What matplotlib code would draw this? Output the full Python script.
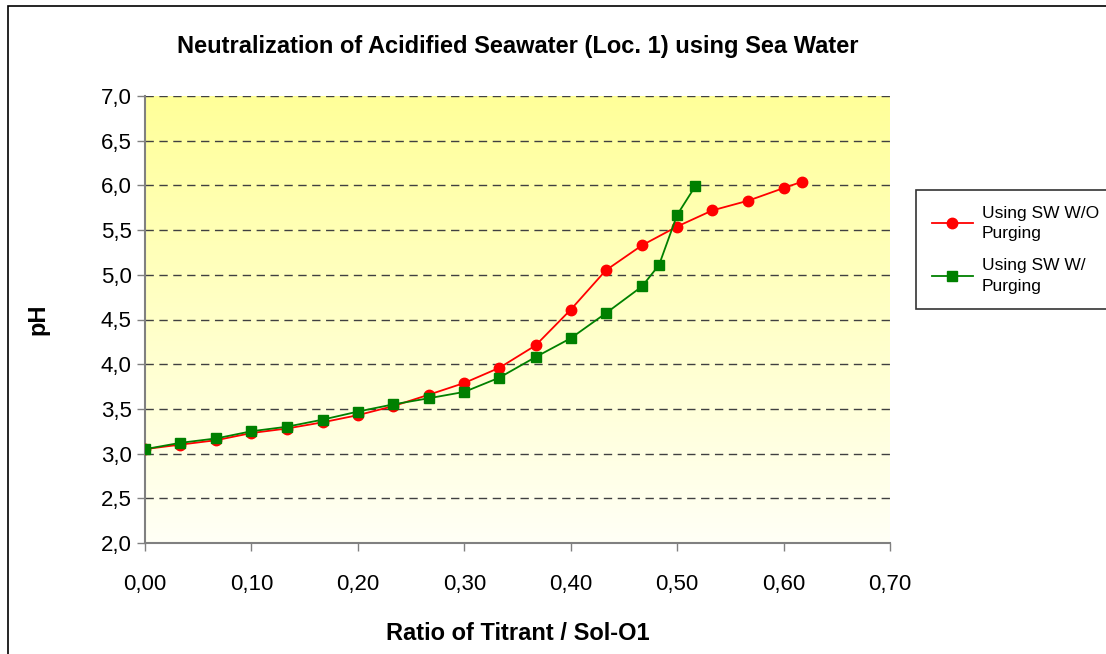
import numpy as np
import matplotlib.pyplot as plt
from matplotlib.patches import Rectangle
from matplotlib.colors import LinearSegmentedColormap
from matplotlib.ticker import FuncFormatter, MultipleLocator

plt.rcParams['font.family'] = ['Liberation Sans', 'DejaVu Sans']

# titration data
ratio_wo = [0.000, 0.033, 0.067, 0.100, 0.133, 0.167, 0.200, 0.233, 0.267, 0.300,
            0.333, 0.367, 0.400, 0.433, 0.467, 0.500, 0.533, 0.567, 0.600, 0.617]
ph_wo = [3.05, 3.10, 3.15, 3.23, 3.28, 3.35, 3.43, 3.53, 3.66, 3.79,
         3.96, 4.21, 4.61, 5.05, 5.33, 5.54, 5.72, 5.83, 5.97, 6.04]

ratio_w = [0.000, 0.033, 0.067, 0.100, 0.133, 0.167, 0.200, 0.233, 0.267, 0.300,
           0.333, 0.367, 0.400, 0.433, 0.467, 0.483, 0.500, 0.517]
ph_w = [3.05, 3.12, 3.17, 3.25, 3.30, 3.38, 3.47, 3.55, 3.62, 3.69,
        3.85, 4.08, 4.29, 4.57, 4.87, 5.11, 5.67, 5.99]

labels = ['Using SW W/O\nPurging', 'Using SW W/\nPurging']

fig = plt.figure(figsize=(11.06, 6.54), dpi=100)
ax = fig.add_axes([145 / 1106, 1 - 543 / 654, 745 / 1106, 447 / 654])

# yellow to white gradient behind the plot area
cmap = LinearSegmentedColormap.from_list('bg', ['#fffff6', '#ffff99'])
grad = np.linspace(0, 1, 256).reshape(-1, 1)
ax.imshow(grad, aspect='auto', cmap=cmap, origin='lower',
          extent=[0, 0.7, 2, 7], zorder=0)

ax.plot(ratio_wo, ph_wo, color='#ff0000', lw=1.3, marker='o', ms=7.5,
        label=labels[0], zorder=3)
ax.plot(ratio_w, ph_w, color='#008000', lw=1.3, marker='s', ms=7.5,
        label=labels[1], zorder=3)

ax.set_xlim(0, 0.7)
ax.set_ylim(2, 7)
ax.xaxis.set_major_locator(MultipleLocator(0.1))
ax.yaxis.set_major_locator(MultipleLocator(0.5))
ax.xaxis.set_major_formatter(FuncFormatter(lambda v, p: f"{v:.2f}".replace('.', ',')))
ax.yaxis.set_major_formatter(FuncFormatter(lambda v, p: f"{v:.1f}".replace('.', ',')))
ax.tick_params(labelsize=16, colors='#808080', length=6, width=1, labelcolor='black')
ax.tick_params(axis='x', pad=16)
ax.grid(axis='y', linestyle=(0, (6, 4)), color='#404040', lw=1)
for s in ['top', 'right']:
    ax.spines[s].set_visible(False)
for s in ['left', 'bottom']:
    ax.spines[s].set_color('#808080')
    ax.spines[s].set_linewidth(1.5)

ax.set_title('Neutralization of Acidified Seawater (Loc. 1) using Sea Water',
             fontsize=17, fontweight='bold', pad=31)
ax.set_xlabel('Ratio of Titrant / Sol-O1', fontsize=17, fontweight='bold', labelpad=20)
ax.set_ylabel('pH', fontsize=17, fontweight='bold', labelpad=37)

leg = fig.legend(loc='upper left', bbox_to_anchor=(916 / 1106, 1 - 190 / 654),
                 fontsize=12.5, frameon=True, fancybox=False, handlelength=2.4,
                 handletextpad=0.5, borderpad=0.9, borderaxespad=0,
                 labelspacing=1.0)
for t in leg.get_texts():
    t.set_linespacing(1.45)
leg.get_frame().set_edgecolor('black')
leg.get_frame().set_linewidth(1.2)

# outer chart border
fig.patches.append(Rectangle((8 / 1106, -0.01), 1.1, 1 - 6 / 654 + 0.01,
                             transform=fig.transFigure, fill=False,
                             edgecolor='black', lw=1.2))

fig.savefig('out.png', dpi=100)
